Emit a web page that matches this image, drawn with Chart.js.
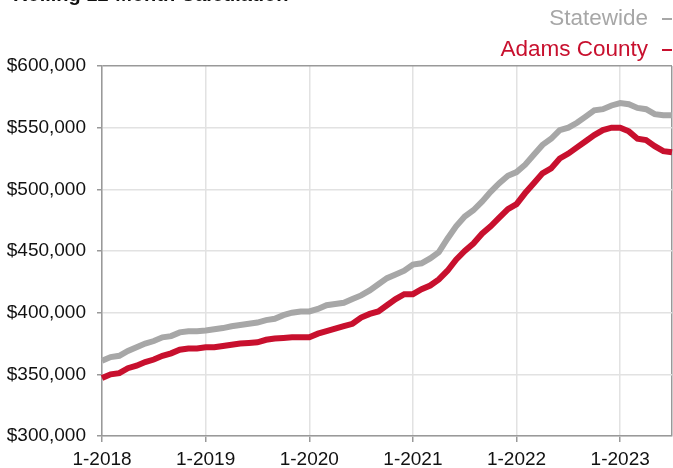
<!DOCTYPE html>
<html>
<head>
<meta charset="utf-8">
<script src="https://cdn.jsdelivr.net/npm/chart.js@4/dist/chart.umd.min.js"></script>
<style>
	html, body{margin: 0; padding: 0; background: #fff;}
	#wrap{position: relative; width: 673px; height: 468px; overflow: hidden;}
	#title{position: absolute; left: 13px; top: -17px; font: bold 20px "Liberation Sans", Arial, sans-serif; color: #111; white-space: nowrap;}
	#legend{position: absolute; right: 1px; top: 3px; font: 22.5px "Liberation Sans", Arial, sans-serif; text-align: right;}
	#legend div{height: 31px; line-height: 29px; white-space: nowrap;}
	#legend span.dash{display: inline-block; width: 10px; height: 2px; margin-left: 14px; vertical-align: middle;}
</style>
</head>
<body>
<div id="wrap">
	<div id="title">Rolling 12-Month Calculation</div>
	<div id="legend"></div>
	<canvas id="my-chart" width="673" height="468"></canvas>
</div>
<script>

//==========
// Data

const years = ["2018", "2019", "2020", "2021", "2022", "2023"];
const lastMonth = 7;// 2023 ends in July

const seriesNames = ["Statewide", "Adams County"];
const seriesColors = ["#a7a7a7", "#c8102e"];

const statewide = [
	361000, 364000, 365000, 369000, 372000, 375000, 377000, 380000, 381000, 384000, 385000, 385000,
	385500, 386500, 387500, 389000, 390000, 391000, 392000, 394000, 395000, 398000, 400000, 401000,
	401000, 403000, 406000, 407000, 408000, 411000, 414000, 418000, 423000, 428000, 431000, 434000,
	439000, 440000, 444000, 449000, 460000, 470000, 478000, 483000, 490000, 498000, 505000, 511000,
	514000, 520000, 528000, 536000, 541000, 548000, 550000, 554000, 559000, 564000, 565000, 568000,
	570000, 569000, 566000, 565000, 561000, 560000, 560000
];

const adamsCounty = [
	347000, 350000, 351000, 355000, 357000, 360000, 362000, 365000, 367000, 370000, 371000, 371000,
	372000, 372000, 373000, 374000, 375000, 375500, 376000, 378000, 379000, 379500, 380000, 380000,
	380000, 383000, 385000, 387000, 389000, 391000, 396000, 399000, 401000, 406000, 411000, 415000,
	415000, 419000, 422000, 427000, 434000, 443000, 450000, 456000, 464000, 470000, 477000, 484000,
	488000, 497000, 505000, 513000, 517000, 525000, 529000, 534000, 539000, 544000, 548000, 550000,
	550000, 547000, 541000, 540000, 535000, 531000, 530000
];

const yMin = 300000;
const yMax = 600000;
const yStep = 50000;

//==========
// Labels "1-2018" ... "7-2023"

function makeLabels(){
	const labels = [];
	for(let y=0; y<years.length; y++){
		const months = (y == years.length - 1) ? lastMonth : 12;
		for(let m=1; m<=months; m++){
			labels.push(m + "-" + years[y]);
		}
	}
	return labels;
}

//==========
// Legend (html text)

function showLegend(){
	const legend = document.getElementById("legend");
	for(let i=0; i<seriesNames.length; i++){
		const row = document.createElement("div");
		row.style.color = seriesColors[i];
		row.textContent = seriesNames[i];
		const dash = document.createElement("span");
		dash.className = "dash";
		dash.style.background = seriesColors[i];
		row.appendChild(dash);
		legend.appendChild(row);
	}
}

//==========
// Chart

function showChart(labels){
	const font = {family: "'Liberation Sans', Arial, sans-serif", size: 19};
	const last = labels.length - 1;
	const ctx = document.getElementById("my-chart").getContext("2d");
	const myChart = new Chart(ctx, {
		type: "line",
		data: {
			labels: labels,
			datasets: [
				{label: seriesNames[0], data: statewide, borderColor: seriesColors[0], borderWidth: 6, pointRadius: 0, tension: 0},
				{label: seriesNames[1], data: adamsCounty, borderColor: seriesColors[1], borderWidth: 6, pointRadius: 0, tension: 0}
			]
		},
		options: {
			responsive: false,
			animation: false,
			layout: {padding: {top: 66, right: 1, left: 0, bottom: 0}},
			plugins: {
				legend: {display: false},
				title: {display: false},
				tooltip: {enabled: false}
			},
			scales: {
				x: {
					type: "category",
					offset: false,
					border: {color: "#999", width: 1.5},
					grid: {
						color: c=>(c.index % 12 == 0) ? "#e2e2e2" : (c.index == last ? "#999" : "rgba(0,0,0,0)"),
						tickColor: c=>(c.index % 12 == 0) ? "#999" : "rgba(0,0,0,0)",
						tickLength: 6,
						lineWidth: 1.5
					},
					ticks: {
						autoSkip: false,
						maxRotation: 0,
						color: "#111",
						font: font,
						padding: 6,
						callback: function(v, i){ return (i % 12 == 0) ? labels[i] : ""; }
					},
					afterFit: s=>{ s.height = 32; s.paddingLeft = 0; s.paddingRight = 0; }
				},
				y: {
					min: yMin,
					max: yMax,
					border: {color: "#999", width: 1.5},
					grid: {
						color: c=>(c.tick && c.tick.value == yMax) ? "#999" : "#e2e2e2",
						tickColor: "#999",
						tickLength: 5,
						lineWidth: 1.5
					},
					ticks: {
						stepSize: yStep,
						color: "#111",
						font: font,
						padding: 11,
						callback: v=>"$" + v.toLocaleString("en-US")
					},
					afterFit: s=>{ s.width = 102; s.paddingTop = 0; s.paddingBottom = 0; }
				}
			}
		}
	});
	return myChart;
}

showLegend();
showChart(makeLabels());

</script>
</body>
</html>
